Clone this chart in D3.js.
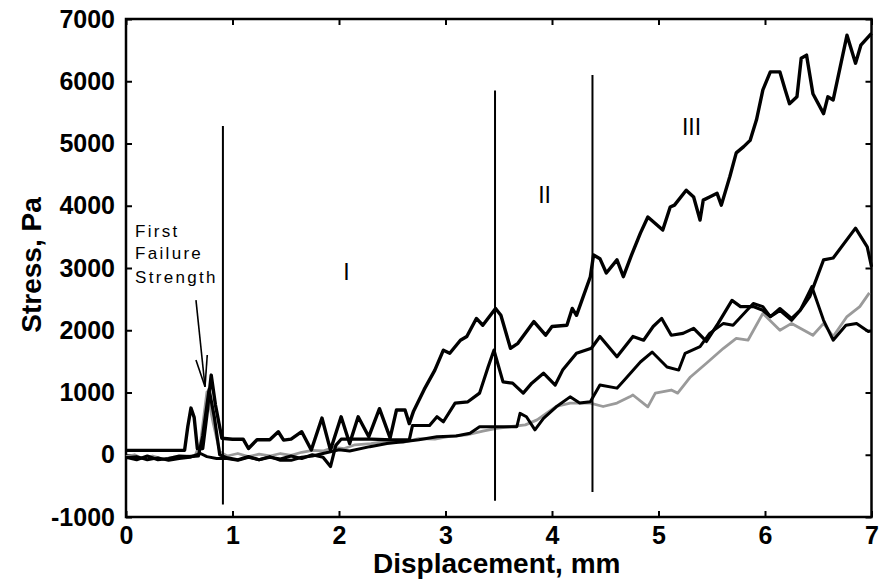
<!DOCTYPE html>
<html>
<head>
<meta charset="utf-8">
<script src="https://cdn.jsdelivr.net/npm/d3@7"></script>
<style>
  body { margin: 0; background: #fff; }
  svg { display: block; font-family: 'Liberation Sans', Arial, sans-serif; }
</style>
</head>
<body>
<div class="chart"></div>
<script>
// stress vs displacement, four runs
var xTicks = [0, 1, 2, 3, 4, 5, 6, 7];
var yTicks = [-1000, 0, 1000, 2000, 3000, 4000, 5000, 6000, 7000];

var aX = [0, 0.3, 0.55, 0.58, 0.61, 0.64, 0.67, 0.72, 0.76, 0.8, 0.84, 0.9, 1.0, 1.1, 1.15, 1.23, 1.35, 1.43, 1.48, 1.55, 1.65, 1.74, 1.84, 1.92, 2.02, 2.1, 2.18, 2.28, 2.38, 2.48, 2.54, 2.62, 2.66, 2.7, 2.8, 2.9, 2.98, 3.04, 3.14, 3.2, 3.29, 3.35, 3.47, 3.52, 3.61, 3.68, 3.83, 3.94, 4.0, 4.14, 4.19, 4.23, 4.36, 4.39, 4.45, 4.51, 4.61, 4.67, 4.74, 4.83, 4.9, 5.04, 5.11, 5.15, 5.26, 5.33, 5.39, 5.42, 5.48, 5.55, 5.59, 5.67, 5.73, 5.8, 5.86, 5.92, 5.98, 6.05, 6.14, 6.19, 6.23, 6.3, 6.34, 6.39, 6.45, 6.55, 6.59, 6.64, 6.77, 6.85, 6.9, 7.0];
var aY = [70, 70, 70, 450, 750, 600, 100, 100, 650, 1280, 800, 265, 250, 250, 100, 240, 240, 370, 235, 250, 370, 75, 590, 75, 610, 180, 610, 290, 740, 270, 720, 720, 500, 700, 1050, 1360, 1680, 1630, 1840, 1900, 2190, 2080, 2350, 2240, 1710, 1790, 2140, 1920, 2060, 2080, 2350, 2240, 2860, 3210, 3150, 2920, 3130, 2860, 3180, 3560, 3820, 3610, 3980, 4010, 4250, 4140, 3770, 4090, 4140, 4200, 4010, 4470, 4850, 4950, 5050, 5380, 5860, 6150, 6150, 5860, 5640, 5750, 6370, 6420, 5800, 5480, 5750, 5700, 6740, 6290, 6580, 6770];

var bX = [0, 0.1, 0.2, 0.3, 0.4, 0.5, 0.6, 0.68, 0.72, 0.78, 0.83, 0.88, 0.95, 1.05, 1.15, 1.25, 1.35, 1.45, 1.55, 1.65, 1.75, 1.85, 1.92, 1.97, 2.02, 2.3, 2.5, 2.66, 2.69, 2.85, 2.92, 2.98, 3.09, 3.21, 3.32, 3.4, 3.455, 3.54, 3.63, 3.73, 3.81, 3.92, 4.03, 4.1, 4.23, 4.37, 4.45, 4.61, 4.76, 4.86, 4.95, 5.03, 5.12, 5.23, 5.33, 5.45, 5.56, 5.69, 5.77, 5.89, 5.98, 6.05, 6.14, 6.25, 6.33, 6.42, 6.55, 6.64, 6.85, 6.96, 7.0];
var bY = [-40, -80, -20, -80, -60, -20, -30, -20, 300, 1050, 600, 0, -50, -80, -30, -80, -40, -70, -20, -60, 0, -40, -190, 150, 250, 250, 240, 240, 470, 470, 610, 530, 830, 850, 990, 1410, 1680, 1170, 1150, 990, 1150, 1310, 1120, 1360, 1630, 1710, 1900, 1575, 1900, 1840, 2060, 2190, 1920, 1950, 2030, 1820, 2110, 2480, 2380, 2380, 2320, 2220, 2320, 2160, 2320, 2540, 3130, 3160, 3640, 3340, 3020];

var cX = [0, 0.1, 0.2, 0.3, 0.4, 0.5, 0.6, 0.7, 0.76, 0.85, 0.95, 1.05, 1.15, 1.25, 1.35, 1.45, 1.55, 1.65, 1.75, 1.85, 2.0, 2.1, 2.29, 2.45, 2.6, 2.75, 2.92, 3.1, 3.23, 3.32, 3.5, 3.67, 3.7, 3.76, 3.84, 3.92, 4.04, 4.17, 4.26, 4.36, 4.45, 4.61, 4.68, 4.83, 4.94, 5.08, 5.19, 5.25, 5.39, 5.48, 5.61, 5.7, 5.89, 5.98, 6.05, 6.14, 6.25, 6.33, 6.44, 6.55, 6.64, 6.76, 6.86, 6.97, 7.0];
var cY = [-50, -30, -80, -50, -90, -60, -40, 20, -30, -60, -60, -90, -40, -80, -30, -90, -90, -40, -20, 20, 80, 60, 130, 180, 210, 240, 290, 300, 345, 450, 450, 450, 665, 610, 400, 585, 770, 930, 830, 850, 1120, 1070, 1200, 1490, 1650, 1410, 1360, 1630, 1735, 1950, 2110, 2080, 2430, 2380, 2220, 2350, 2190, 2320, 2700, 2160, 1840, 2080, 2110, 1980, 1990];

var dX = [0, 0.08, 0.15, 0.25, 0.35, 0.45, 0.55, 0.65, 0.7, 0.76, 0.82, 0.88, 0.95, 1.05, 1.15, 1.25, 1.35, 1.45, 1.55, 1.65, 1.75, 1.85, 1.95, 2.05, 2.15, 2.3, 2.45, 2.6, 2.75, 2.9, 3.05, 3.2, 3.35, 3.48, 3.6, 3.75, 3.86, 4.04, 4.17, 4.36, 4.48, 4.61, 4.73, 4.76, 4.9, 4.97, 5.12, 5.18, 5.3, 5.45, 5.61, 5.73, 5.84, 5.98, 6.14, 6.25, 6.45, 6.55, 6.64, 6.77, 6.89, 6.98];
var dY = [-30, 0, -60, -20, -70, -40, -30, -10, 200, 1010, 500, 50, -20, 20, -30, 10, -20, 20, -10, 40, 70, 60, 120, 100, 160, 180, 220, 200, 260, 250, 300, 320, 380, 425, 450, 480, 560, 775, 830, 830, 775, 830, 930, 960, 770, 990, 1040, 990, 1250, 1470, 1710, 1870, 1840, 2270, 2000, 2110, 1920, 2110, 1900, 2220, 2380, 2600];

// region boundaries: [x, top, bottom]
var dividerX = [0.91, 3.465, 4.38];
var dividerTop = [5280, 5850, 6100];
var dividerBottom = [-800, -740, -600];

var regionLabels = ['I', 'II', 'III'];
var regionX = [2.07, 3.93, 5.31];
var regionY = [2940, 4170, 5270];

var noteLines = ['First', 'Failure', 'Strength'];
var noteX = 0.085;
var noteY = [3496, 3143, 2758];
var arrowFrom = [0.657, 2485];
var arrowTip = [0.742, 1093];
var arrowArms = [[0.657, 1522], [0.763, 1602]];

var margin = { top: 19, left: 126 },
  width = 745.5,
  height = 498;

var svg = d3
  .select('.chart')
  .append('svg')
  .attr('width', 880)
  .attr('height', 587);

var g = svg
  .append('g')
  .attr('transform', 'translate(' + margin.left + ',' + margin.top + ')');

var xScale = d3.scaleLinear().domain([0, 7]).range([0, width]);
var yScale = d3.scaleLinear().domain([-1000, 7000]).range([height, 0]);

var plain = (d) => String(d);

// axes, ticks pointing inward on all four sides
var xAxis = d3.axisBottom(xScale).tickValues(xTicks).tickFormat(plain).tickSizeInner(-6).tickSizeOuter(0).tickPadding(9);
var yAxis = d3.axisLeft(yScale).tickValues(yTicks).tickFormat(plain).tickSizeInner(-6).tickSizeOuter(0).tickPadding(11);
var xTop = d3.axisTop(xScale).tickValues(xTicks).tickSizeInner(-6).tickSizeOuter(0).tickFormat('');
var yRight = d3.axisRight(yScale).tickValues(yTicks).tickSizeInner(-6).tickSizeOuter(0).tickFormat('');

g.append('g').attr('transform', 'translate(0,' + height + ')').call(xAxis);
g.append('g').call(yAxis);
g.append('g').call(xTop);
g.append('g').attr('transform', 'translate(' + width + ',0)').call(yRight);

g.selectAll('.domain').remove();
g.selectAll('.tick line').attr('stroke', '#000').attr('stroke-width', 2);
g.selectAll('.tick text')
  .attr('fill', '#000')
  .style('font-size', '25px')
  .style('font-weight', 'bold')
  .style('font-family', "'Liberation Sans', Arial, sans-serif");

g.append('rect')
  .attr('width', width)
  .attr('height', height)
  .attr('fill', 'none')
  .attr('stroke', '#000')
  .attr('stroke-width', 2.5);

// data lines
var line = d3
  .line()
  .x((d) => xScale(d[0]))
  .y((d) => yScale(d[1]));

var series = [
  { xs: dX, ys: dY, color: '#9a9a9a', w: 2.8 },
  { xs: cX, ys: cY, color: '#000', w: 3 },
  { xs: bX, ys: bY, color: '#000', w: 3.2 },
  { xs: aX, ys: aY, color: '#000', w: 3.4 }
];

series.forEach((s) => {
  g.append('path')
    .datum(s.xs.map((x, i) => [x, s.ys[i]]))
    .attr('d', line)
    .attr('fill', 'none')
    .attr('stroke', s.color)
    .attr('stroke-width', s.w)
    .attr('stroke-linejoin', 'round');
});

// vertical dividers
g.selectAll('.divider')
  .data(dividerX)
  .enter()
  .append('line')
  .attr('class', 'divider')
  .attr('x1', (d) => xScale(d))
  .attr('x2', (d) => xScale(d))
  .attr('y1', (d, i) => yScale(dividerTop[i]))
  .attr('y2', (d, i) => yScale(dividerBottom[i]))
  .attr('stroke', '#000')
  .attr('stroke-width', 2);

g.selectAll('.region')
  .data(regionLabels)
  .enter()
  .append('text')
  .attr('x', (d, i) => xScale(regionX[i]))
  .attr('y', (d, i) => yScale(regionY[i]))
  .attr('text-anchor', 'middle')
  .attr('dy', '0.36em')
  .style('font-size', '23px')
  .text((d) => d);

g.selectAll('.note')
  .data(noteLines)
  .enter()
  .append('text')
  .attr('x', xScale(noteX))
  .attr('y', (d, i) => yScale(noteY[i]))
  .style('font-size', '17px')
  .style('letter-spacing', '2.3px')
  .text((d) => d);

// arrow to the first peak
g.append('line')
  .attr('x1', xScale(arrowFrom[0]))
  .attr('y1', yScale(arrowFrom[1]))
  .attr('x2', xScale(arrowTip[0]))
  .attr('y2', yScale(arrowTip[1]))
  .attr('stroke', '#000')
  .attr('stroke-width', 1.6);

arrowArms.forEach((p) => {
  g.append('line')
    .attr('x1', xScale(p[0]))
    .attr('y1', yScale(p[1]))
    .attr('x2', xScale(arrowTip[0]))
    .attr('y2', yScale(arrowTip[1]))
    .attr('stroke', '#000')
    .attr('stroke-width', 1.6);
});

// axis titles
svg
  .append('text')
  .attr('x', margin.left + width / 2 - 2)
  .attr('y', 573)
  .attr('text-anchor', 'middle')
  .style('font-size', '28px')
  .style('font-weight', 'bold')
  .text('Displacement, mm');

svg
  .append('text')
  .attr('transform', 'rotate(-90)')
  .attr('x', -265)
  .attr('y', 41)
  .attr('text-anchor', 'middle')
  .style('font-size', '28px')
  .style('font-weight', 'bold')
  .text('Stress, Pa');
</script>
</body>
</html>
